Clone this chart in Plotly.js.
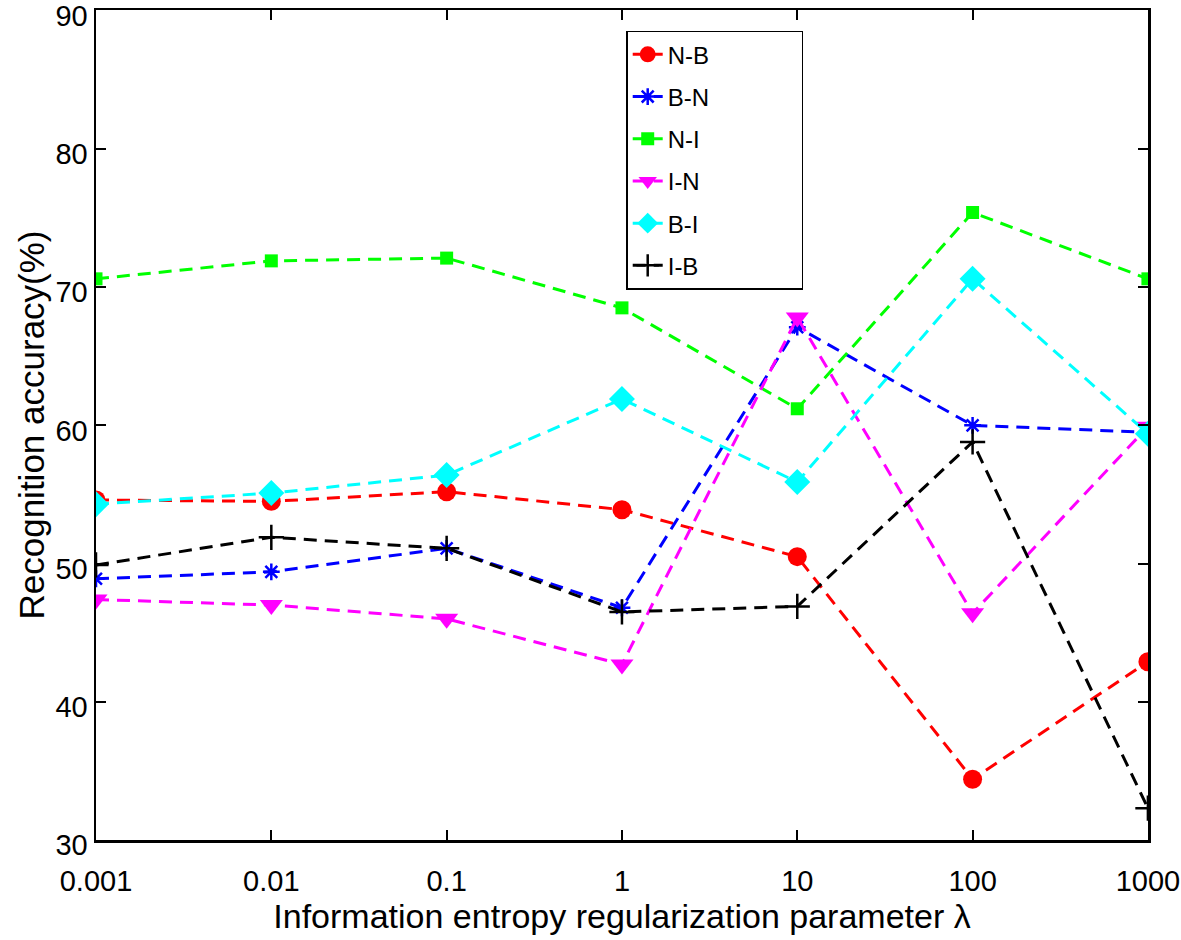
<!DOCTYPE html>
<html>
<head>
<meta charset="utf-8">
<script src="https://cdn.plot.ly/plotly-3.0.1.min.js"></script>
<style>
  body { margin: 0; background: #fff; }
  #plot { width: 1181px; height: 940px; }
</style>
</head>
<body>
<div id="plot"></div>
<script>
// lambda values on the x axis
var lambda = [0.001, 0.01, 0.1, 1, 10, 100, 1000];
var tickText = ["0.001", "0.01", "0.1", "1", "10", "100", "1000"];
var yTicks = [30, 40, 50, 60, 70, 80, 90];

// recognition accuracy (%) for each transfer task
var nb = [54.6, 54.5, 55.2, 53.9, 50.5, 34.4, 42.9];
var bn = [48.9, 49.4, 51.1, 46.8, 67.1, 60.0, 59.5];
var ni = [70.6, 71.9, 72.1, 68.5, 61.2, 75.4, 70.6];
var inn = [47.4, 47.0, 46.0, 42.7, 67.8, 46.4, 59.9];
var bi = [54.3, 55.1, 56.4, 61.9, 55.9, 70.6, 59.4];
var ib = [49.9, 51.9, 51.1, 46.5, 46.9, 58.8, 32.3];

var dash = "13px,8px";
// trailing padding so the legend box is as wide as the original one
var pad = "\u00a0\u00a0\u00a0\u00a0\u00a0\u00a0\u00a0\u00a0\u00a0\u00a0\u00a0\u00a0\u00a0";

function series(name, y, color, symbol, size, open) {
  var marker = { symbol: symbol, size: size, color: color };
  if (open) {
    marker.line = { color: color, width: 2.5 };
  }
  return {
    x: lambda,
    y: y,
    name: name + pad,
    legendgroup: name,
    type: "scatter",
    mode: "lines+markers",
    line: { color: color, width: 3, dash: dash },
    marker: marker
  };
}

var data = [
  series("N-B", nb, "#ff0000", "circle", 19, false),
  series("B-N", bn, "#0000ff", "asterisk-open", 14, true),
  series("N-I", ni, "#00ff00", "square", 13, false),
  series("I-N", inn, "#ff00ff", "triangle-down", 20, false),
  series("B-I", bi, "#00ffff", "diamond", 20, false),
  series("I-B", ib, "#000000", "cross-thin-open", 18, true)
];

var layout = {
  width: 1181,
  height: 940,
  margin: { l: 96, r: 33, t: 10, b: 100 },
  paper_bgcolor: "#fff",
  plot_bgcolor: "#fff",
  font: { family: "Liberation Sans, Arial, sans-serif", size: 29, color: "#000" },
  showlegend: true,
  legend: {
    x: 0.504, y: 0.975, xanchor: "left", yanchor: "top",
    bordercolor: "#000", borderwidth: 1.5, bgcolor: "#fff",
    font: { size: 24 },
    tracegroupgap: 8
  },
  xaxis: {
    type: "log",
    range: [-3, 3.0005],
    tickvals: lambda,
    ticktext: tickText,
    ticks: "inside",
    ticklen: 10,
    tickwidth: 2,
    tickcolor: "#000",
    ticklabelstandoff: 14,
    ticklabeloverflow: "allow",
    showline: true,
    linecolor: "#000",
    linewidth: 2.5,
    mirror: "allticks",
    showgrid: false,
    zeroline: false,
    title: { text: "Information entropy regularization parameter λ", font: { size: 34 }, standoff: 5 }
  },
  yaxis: {
    range: [30, 90.05],
    tickvals: yTicks,
    ticks: "inside",
    ticklen: 10,
    tickwidth: 2,
    tickcolor: "#000",
    ticklabelshift: 5,
    ticklabeloverflow: "allow",
    showline: true,
    linecolor: "#000",
    linewidth: 2.5,
    mirror: "allticks",
    showgrid: false,
    zeroline: false,
    title: { text: "Recognition accuracy(%)", font: { size: 35 }, standoff: 0 }
  }
};

Plotly.newPlot("plot", data, layout, { displayModeBar: false, staticPlot: true });
</script>
</body>
</html>
